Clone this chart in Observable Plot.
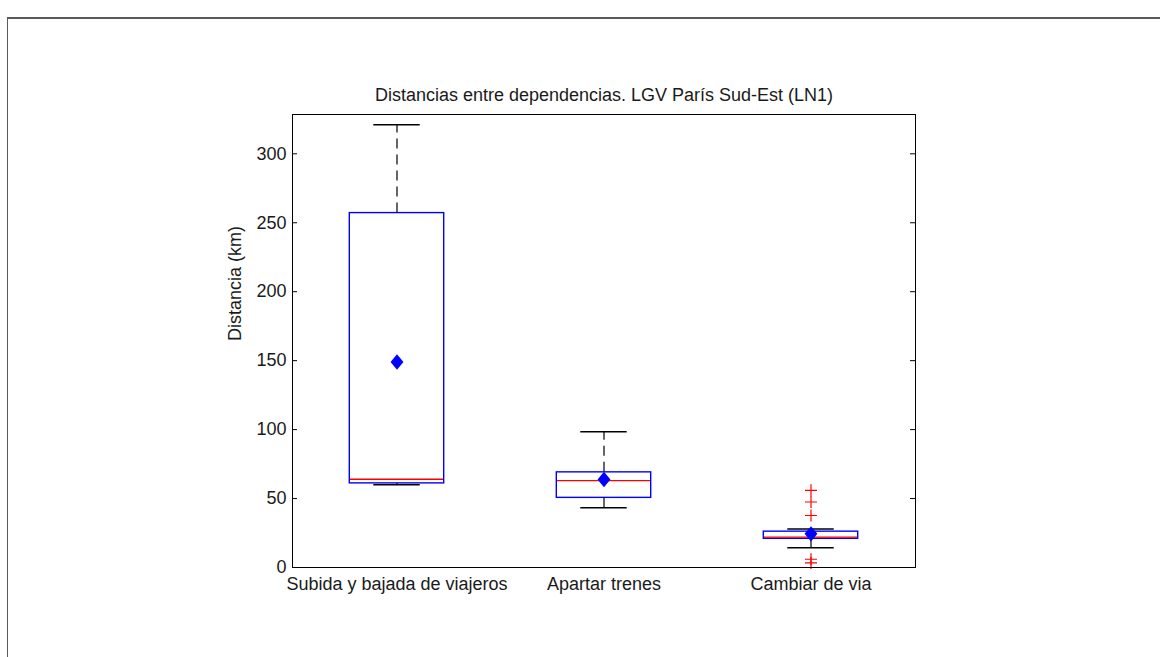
<!DOCTYPE html>
<html>
<head>
<meta charset="utf-8">
<script src="https://cdn.jsdelivr.net/npm/d3@7"></script>
<script src="https://cdn.jsdelivr.net/npm/@observablehq/plot@0.6"></script>
<style>
  html, body { margin: 0; padding: 0; background: #fff; }
  #wrap { position: relative; width: 1160px; height: 657px; overflow: hidden; }
  #border { position: absolute; left: 7px; top: 17px; width: 1200px; height: 700px;
            border-top: 2px solid #5a5a5a; border-left: 1px solid #5a5a5a; }
  #chart { position: absolute; left: 0; top: 0; }
</style>
</head>
<body>
<div id="wrap"><div id="border"></div><div id="chart"></div></div>
<script>
const title = "Distancias entre dependencias. LGV París Sud-Est (LN1)";
const yLabel = "Distancia (km)";
const categories = ["Subida y bajada de viajeros", "Apartar trenes", "Cambiar de via"];
const q1 = [61, 50.5, 20.8];
const median = [64, 63, 22];
const q3 = [257, 69, 26];
const whiskerLo = [60, 43.3, 14.3];
const whiskerHi = [321, 98.4, 28];
const mean = [149, 63.8, 24.4];
const outlierCat = ["Cambiar de via", "Cambiar de via", "Cambiar de via", "Cambiar de via", "Cambiar de via"];
const outlierVal = [56, 47.5, 37.7, 6, 3.3];
const yTicks = [0, 50, 100, 150, 200, 250, 300];

const table = categories.map((c, i) => ({
  cat: c, q1: q1[i], median: median[i], q3: q3[i],
  lo: whiskerLo[i], hi: whiskerHi[i], mean: mean[i]
}));
const outliers = outlierCat.map((c, i) => ({cat: c, v: outlierVal[i]}));

const diamond = {
  draw(ctx, size) {
    const r = Math.sqrt(size / Math.PI);
    ctx.moveTo(0, -r * 1.1);
    ctx.lineTo(r * 0.92, 0);
    ctx.lineTo(0, r * 1.1);
    ctx.lineTo(-r * 0.92, 0);
    ctx.closePath();
  }
};
const plus = {
  draw(ctx, size) {
    const r = Math.sqrt(size / Math.PI);
    ctx.moveTo(-r, 0); ctx.lineTo(r, 0);
    ctx.moveTo(0, -r); ctx.lineTo(0, r);
  }
};

const font = "'Liberation Sans', Arial, Helvetica, sans-serif";
const plotW = 1160 - 292 - 245;

const chart = Plot.plot({
  width: 1160,
  height: 657,
  marginLeft: 292,
  marginRight: 245,
  marginTop: 114,
  marginBottom: 90,
  style: {fontFamily: font, fontSize: "18px", background: "transparent", color: "#1a1a1a"},
  x: {type: "band", domain: categories, padding: 0, axis: null},
  y: {domain: [0, 328.5], axis: null},
  marks: [
    // whiskers
    Plot.ruleX(table, {x: "cat", y1: "q3", y2: "hi", stroke: "black", strokeWidth: 1.2, strokeDasharray: "10,6"}),
    Plot.ruleX(table, {x: "cat", y1: "lo", y2: "q1", stroke: "black", strokeWidth: 1.2, strokeDasharray: "10,6"}),
    // caps
    Plot.tickY(table, {x: "cat", y: "hi", stroke: "black", strokeWidth: 1.5, insetLeft: 80.3, insetRight: 80.3}),
    Plot.tickY(table, {x: "cat", y: "lo", stroke: "black", strokeWidth: 1.5, insetLeft: 80.3, insetRight: 80.3}),
    // boxes
    Plot.barY(table, {x: "cat", y1: "q1", y2: "q3", fill: "none", stroke: "#0000ff", strokeWidth: 1.4, insetLeft: 56.3, insetRight: 56.3}),
    // medians
    Plot.tickY(table, {x: "cat", y: "median", stroke: "#ff0000", strokeWidth: 1.4, insetLeft: 57, insetRight: 57}),
    // outliers
    Plot.dot(outliers, {x: "cat", y: "v", symbol: plus, r: 6, stroke: "#ff0000", strokeWidth: 1.2, fill: "none"}),
    // means
    Plot.dot(table, {x: "cat", y: "mean", symbol: diamond, r: 7, fill: "#0000ff", stroke: "none"}),
    // frame and ticks
    Plot.frame({stroke: "#000", strokeWidth: 1}),
    Plot.tickY(yTicks, {y: d => d, stroke: "#000", insetRight: plotW - 5}),
    Plot.tickY(yTicks, {y: d => d, stroke: "#000", insetLeft: plotW - 5}),
    Plot.axisY({ticks: yTicks, tickSize: 0, tickPadding: 6, label: null, fontSize: 18, tickFormat: d => String(d)}),
    Plot.axisX({tickSize: 0, tickPadding: 10, label: null, fontSize: 18}),
    Plot.text([yLabel], {frameAnchor: "left", dx: -57, rotate: -90, fontSize: 18, fill: "#1a1a1a"}),
    Plot.text([title], {frameAnchor: "top", dy: -26, fontSize: 18, fill: "#1a1a1a"})
  ]
});
document.getElementById("chart").appendChild(chart);
</script>
</body>
</html>
